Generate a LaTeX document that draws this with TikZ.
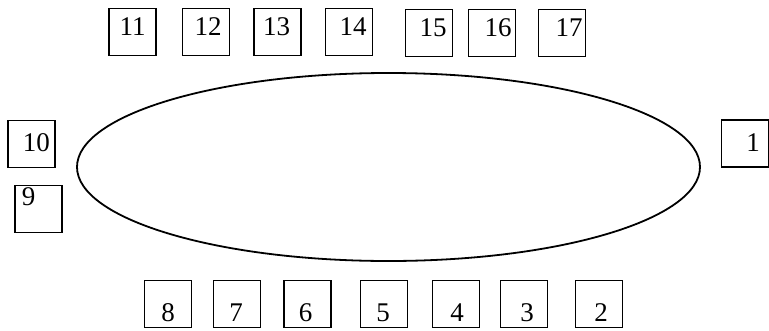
\documentclass[tikz,border=0pt]{standalone}
\usepackage{fontspec}
\setmainfont{Liberation Serif}
\usepackage{tikz}
\usetikzlibrary{shapes.geometric}

\begin{document}
\begin{tikzpicture}[x=1pt,y=-1pt,
  seat/.style={draw,line width=1.8pt,minimum width=47pt,minimum height=47pt,inner sep=0pt},
  every label/.style={font=\fontsize{27}{27}\selectfont,inner sep=0pt}]
\useasboundingbox (0,0) rectangle (769,330);
\node[ellipse,draw,line width=1.8pt,minimum width=623pt,minimum height=188pt,inner sep=0pt] (table) at (388.5,167) {};
% top side
\node[seat,label={[yshift=5pt]center:11}] (s11) at (132.5,32) {};
\node[seat,label={[xshift=2pt,yshift=5pt]center:12}] (s12) at (206,32) {};
\node[seat,label={[xshift=-1pt,yshift=5pt]center:13}] (s13) at (277.5,32) {};
\node[seat,label={[xshift=4pt,yshift=5pt]center:14}] (s14) at (349,32) {};
\node[seat,label={[xshift=4pt,yshift=5pt]center:15}] (s15) at (429,33) {};
\node[seat,label={[xshift=6pt,yshift=5pt]center:16}] (s16) at (492,33) {};
\node[seat,label={[xshift=7pt,yshift=5pt]center:17}] (s17) at (562,33) {};
% ends
\node[seat,label={[xshift=5pt,yshift=1pt]center:10}] (s10) at (31.5,144) {};
\node[seat,label={[xshift=-10pt,yshift=12pt]center:9}] (s9) at (38.5,209) {};
\node[seat,label={[xshift=8pt,yshift=1pt]center:1}] (s1) at (745,143.5) {};
% bottom side
\node[seat,label={[yshift=-9pt]center:8}] (s8) at (168,304) {};
\node[seat,label={[xshift=-1pt,yshift=-9pt]center:7}] (s7) at (237,304) {};
\node[seat,label={[xshift=-2pt,yshift=-9pt]center:6}] (s6) at (307.5,304) {};
\node[seat,label={[xshift=-1pt,yshift=-9pt]center:5}] (s5) at (384,304) {};
\node[seat,label={[xshift=1pt,yshift=-9pt]center:4}] (s4) at (456,304) {};
\node[seat,label={[xshift=3pt,yshift=-9pt]center:3}] (s3) at (524,304) {};
\node[seat,label={[xshift=2pt,yshift=-9pt]center:2}] (s2) at (599,304) {};
\end{tikzpicture}
\end{document}
